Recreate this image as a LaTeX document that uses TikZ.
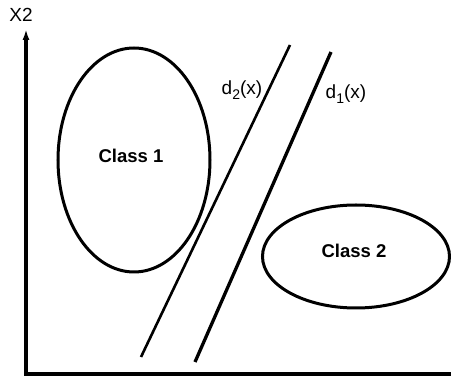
\documentclass[tikz,border=0pt]{standalone}
\usepackage{fontspec}
\setmainfont{Liberation Sans}
\usetikzlibrary{arrows.meta,shapes.geometric}
\tikzset{cls/.style={draw=black,ellipse,line width=3pt,inner sep=0pt},
  clstxt/.style={font=\bfseries\fontsize{18.5}{20}\selectfont,inner sep=0pt},
  axis/.style={line width=3.2pt},
  bound/.style={line width=2.6pt},
  lbl/.style={font=\fontsize{19}{21}\selectfont,inner sep=0pt}}
\newcommand{\sub}[1]{\raisebox{-0.3em}{\fontsize{14}{15}\selectfont #1}}

\begin{document}
\begin{tikzpicture}[x=1pt,y=-1pt]
\useasboundingbox (0,0) rectangle (451,387);
\coordinate (origin) at (26,374);
\coordinate (ytip) at (26,29);
\coordinate (xend) at (451,374);
\draw[axis,{Latex[length=11pt,width=7pt]}-] (ytip) -- (origin) -- (xend);
\node[lbl] (xtwo) at (21,15) {X2};
\node[cls,minimum width=152pt,minimum height=224pt] (class1) at (134,160) {};
\node[clstxt] (c1txt) at (131,156) {Class 1};
\node[cls,minimum width=187pt,minimum height=103pt] (class2) at (356,256.5) {};
\node[clstxt] (c2txt) at (354,251) {Class 2};
\coordinate (d2a) at (141,357);
\coordinate (d2b) at (290,45);
\coordinate (d1a) at (195,362);
\coordinate (d1b) at (331,52);
\draw[bound] (d2a) -- (d2b);
\draw[bound,line width=3.3pt] (d1a) -- (d1b);
\node[lbl] (d2lbl) at (242,90) {d\sub{2}(x)};
\node[lbl] (d1lbl) at (346,94) {d\sub{1}(x)};
\end{tikzpicture}
\end{document}
